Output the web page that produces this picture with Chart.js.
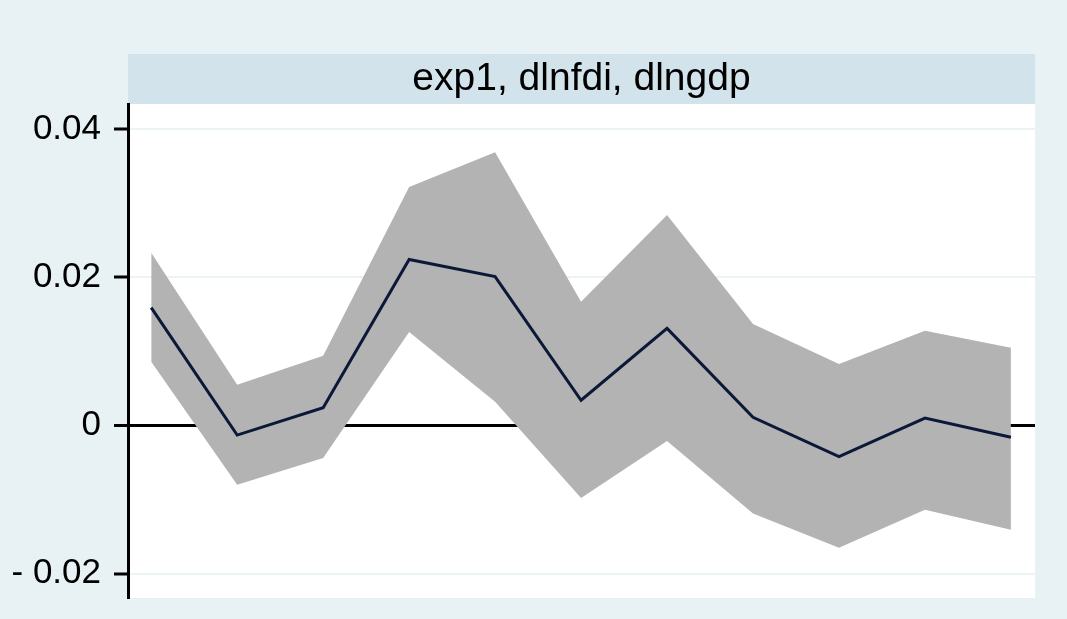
<!DOCTYPE html>
<html>
<head>
<meta charset="utf-8">
<script src="https://cdn.jsdelivr.net/npm/chart.js@4"></script>
<style>
  html, body { margin: 0; padding: 0; background: #e8f2f5; }
  #wrap { width: 1067px; height: 619px; }
</style>
</head>
<body>
<div id="wrap"><canvas id="c" width="1067" height="619"></canvas></div>
<script>
// IRF: exp1, dlnfdi, dlngdp (Stata style)
var steps = [0, 1, 2, 3, 4, 5, 6, 7, 8, 9, 10];
var irf   = [0.0159, -0.0013, 0.0024, 0.0224, 0.0201, 0.0034, 0.0131, 0.0011, -0.0042, 0.0010, -0.0016];
var upper = [0.0233, 0.0055, 0.0094, 0.0322, 0.0369, 0.0167, 0.0284, 0.0137, 0.0083, 0.0128, 0.0105];
var lower = [0.0086, -0.0080, -0.0044, 0.0126, 0.0032, -0.0098, -0.0021, -0.0119, -0.0165, -0.0114, -0.0141];
var yTicks = [-0.02, 0, 0.02, 0.04];
var yTickLabels = ['- 0.02', '0', '0.02', '0.04'];
var panelTitle = 'exp1, dlnfdi, dlngdp';

var FONT = '"Liberation Sans", Arial, sans-serif';

function pts(vals) {
  return steps.map(function(s, i) { return { x: s, y: vals[i] }; });
}

// paints outer background, title strip and white plot region
var panelBg = {
  id: 'panelBg',
  beforeDraw: function(chart) {
    var ctx = chart.ctx, a = chart.chartArea;
    ctx.save();
    ctx.fillStyle = '#e8f2f5';
    ctx.fillRect(0, 0, chart.width, chart.height);
    ctx.fillStyle = '#d3e3eb';
    ctx.fillRect(a.left, a.top - 50, a.right - a.left, 50);
    ctx.fillStyle = '#ffffff';
    ctx.fillRect(a.left, a.top, a.right - a.left, a.bottom - a.top);
    ctx.restore();
  }
};

new Chart(document.getElementById('c'), {
  type: 'line',
  data: {
    datasets: [
      {
        label: 'irf',
        data: pts(irf),
        borderColor: '#0b1838',
        borderWidth: 3,
        pointRadius: 0,
        fill: false,
        tension: 0,
        order: 0
      },
      {
        label: 'lower',
        data: pts(lower),
        borderWidth: 0,
        borderColor: 'rgba(0,0,0,0)',
        pointRadius: 0,
        fill: false,
        tension: 0,
        order: 2
      },
      {
        label: 'upper',
        data: pts(upper),
        borderWidth: 0,
        borderColor: 'rgba(0,0,0,0)',
        backgroundColor: '#b3b3b3',
        pointRadius: 0,
        fill: '-1',
        tension: 0,
        order: 1
      }
    ]
  },
  options: {
    responsive: false,
    animation: false,
    layout: { autoPadding: false, padding: { top: 54, bottom: 21, left: 0, right: 32 } },
    plugins: {
      legend: { display: false },
      tooltip: { enabled: false },
      title: {
        display: true,
        text: panelTitle,
        fullSize: false,
        color: '#000',
        font: { family: FONT, size: 39, weight: 'normal', lineHeight: 50 / 39 },
        padding: { top: 0, bottom: 0 }
      }
    },
    scales: {
      x: {
        type: 'linear',
        display: false,
        min: -0.27,
        max: 10.28
      },
      y: {
        type: 'linear',
        min: -0.0233,
        max: 0.0434,
        afterFit: function(s) { s.width = 128; s.paddingTop = 0; s.paddingBottom = 0; },
        afterBuildTicks: function(s) {
          s.ticks = yTicks.map(function(v) { return { value: v }; });
        },
        border: { display: true, color: '#000', width: 3 },
        grid: {
          drawTicks: true,
          tickLength: 14,
          tickColor: '#000',
          tickWidth: 3,
          lineWidth: function(c) {
            return c.tick && c.tick.value === 0 ? 3 : 2;
          },
          color: function(c) {
            return c.tick && c.tick.value === 0 ? '#000' : '#ebf3f5';
          }
        },
        ticks: {
          color: '#000',
          padding: 13,
          font: { family: FONT, size: 35 },
          callback: function(v) {
            var i = yTicks.indexOf(v);
            return i >= 0 ? yTickLabels[i] : '';
          }
        }
      }
    }
  },
  plugins: [panelBg]
});
</script>
</body>
</html>
